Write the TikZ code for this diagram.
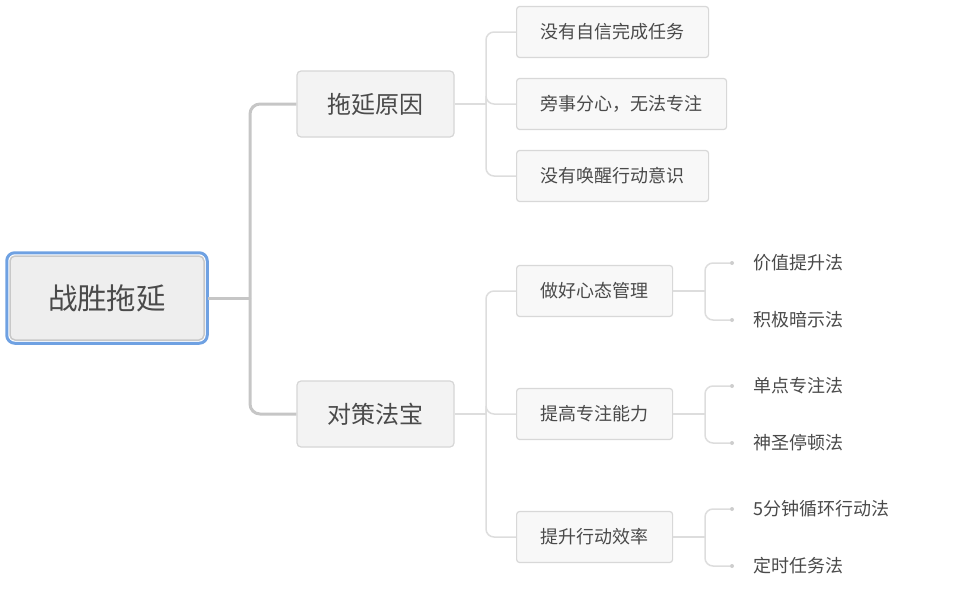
\documentclass[tikz,border=0pt]{standalone}
\usepackage{fontspec}
\setmainfont{Noto Sans CJK SC}
\usepackage{xcolor}

\definecolor{txtgray}{HTML}{4A4A4A}
\definecolor{rootblue}{HTML}{6FA1E2}
\definecolor{rootedge}{HTML}{C8C8C8}
\definecolor{rootfill}{HTML}{EEEEEE}
\definecolor{topicedge}{HTML}{D6D6D6}
\definecolor{topicfill}{HTML}{F3F3F3}
\definecolor{subedge}{HTML}{D8D8D8}
\definecolor{subfill}{HTML}{F8F8F8}
\definecolor{mainline}{HTML}{C6C6C6}
\definecolor{thinline}{HTML}{DDDDDD}
\definecolor{dotgray}{HTML}{CDCDCD}

\tikzset{
  rootbox/.style={draw=rootedge, fill=rootfill, line width=1.5, rounded corners=5,
    minimum width=194, minimum height=84, text=txtgray,
    font=\fontsize{29.5}{30}\selectfont},
  topicbox/.style={draw=topicedge, fill=topicfill, line width=1.2, rounded corners=4,
    minimum width=157, minimum height=66, text=txtgray,
    font=\fontsize{24}{25}\selectfont},
  subbox/.style={draw=subedge, fill=subfill, line width=1.2, rounded corners=3,
    anchor=west, minimum height=51, inner xsep=24, text=txtgray,
    font=\fontsize{18}{19}\selectfont},
  leafdot/.style={circle, fill=dotgray, inner sep=0, minimum size=4},
  leaftext/.style={anchor=west, inner sep=0, text=txtgray,
    font=\fontsize{18}{19}\selectfont},
  rootline/.style={draw=mainline, line width=3, rounded corners=10},
  branchline/.style={draw=thinline, line width=1.5, rounded corners=8},
}

\begin{document}
\begin{tikzpicture}[x=1pt, y=-1pt]
    \useasboundingbox (0,0) rectangle (962,589);

    % central topic
    \node[rootbox] (root) at (107, 298) {战胜拖延};
    \draw[rootblue, line width=3, rounded corners=8]
      ([shift={(-2.5pt,2.5pt)}]root.north west) rectangle ([shift={(2.5pt,-2.5pt)}]root.south east);

    % main topics
    \node[topicbox] (cause) at (375.5, 104) {拖延原因};
    \node[topicbox] (cure) at (375.5, 414) {对策法宝};

    % causes
    \node[subbox] (c1) at (516, 32) {没有自信完成任务};
    \node[subbox] (c2) at (516, 104) {旁事分心，无法专注};
    \node[subbox] (c3) at (516, 176) {没有唤醒行动意识};

    % remedies
    \node[subbox] (r1) at (516, 291) {做好心态管理};
    \node[subbox] (r2) at (516, 414) {提高专注能力};
    \node[subbox] (r3) at (516, 537) {提升行动效率};

    % methods
    \node[leafdot] (d11) at (732, 263) {};
    \node[leafdot] (d12) at (732, 320) {};
    \node[leafdot] (d21) at (732, 386) {};
    \node[leafdot] (d22) at (732, 443) {};
    \node[leafdot] (d31) at (732, 509) {};
    \node[leafdot] (d32) at (732, 566) {};
    \node[leaftext] (m11) at (753, 263) {价值提升法};
    \node[leaftext] (m12) at (753, 320) {积极暗示法};
    \node[leaftext] (m21) at (753, 386) {单点专注法};
    \node[leaftext] (m22) at (753, 443) {神圣停顿法};
    \node[leaftext] (m31) at (753, 509) {5分钟循环行动法};
    \node[leaftext] (m32) at (753, 566) {定时任务法};

    % junctions
    \coordinate (jroot) at (250, 298);
    \coordinate (jcause) at (486, 104);
    \coordinate (jcure) at (486, 414);
    \coordinate (jr1) at (705, 291);
    \coordinate (jr2) at (705, 414);
    \coordinate (jr3) at (705, 537);

    % connectors
    \draw[rootline] ([xshift=3pt]root.east) -- (jroot);
    \draw[rootline] (jroot) |- (cause.west);
    \draw[rootline] (jroot) |- (cure.west);

    \draw[branchline] (cause.east) -- (jcause);
    \foreach \s in {c1,c2,c3}
      \draw[branchline] (jcause) |- (\s.west);
    \draw[branchline] (cure.east) -- (jcure);
    \foreach \s in {r1,r2,r3}
      \draw[branchline] (jcure) |- (\s.west);

    \foreach \s/\a/\b in {1/d11/d12, 2/d21/d22, 3/d31/d32} {
      \draw[branchline] (r\s.east) -- (jr\s);
      \draw[branchline] (jr\s) |- (\a);
      \draw[branchline] (jr\s) |- (\b);
    }
\end{tikzpicture}
\end{document}
